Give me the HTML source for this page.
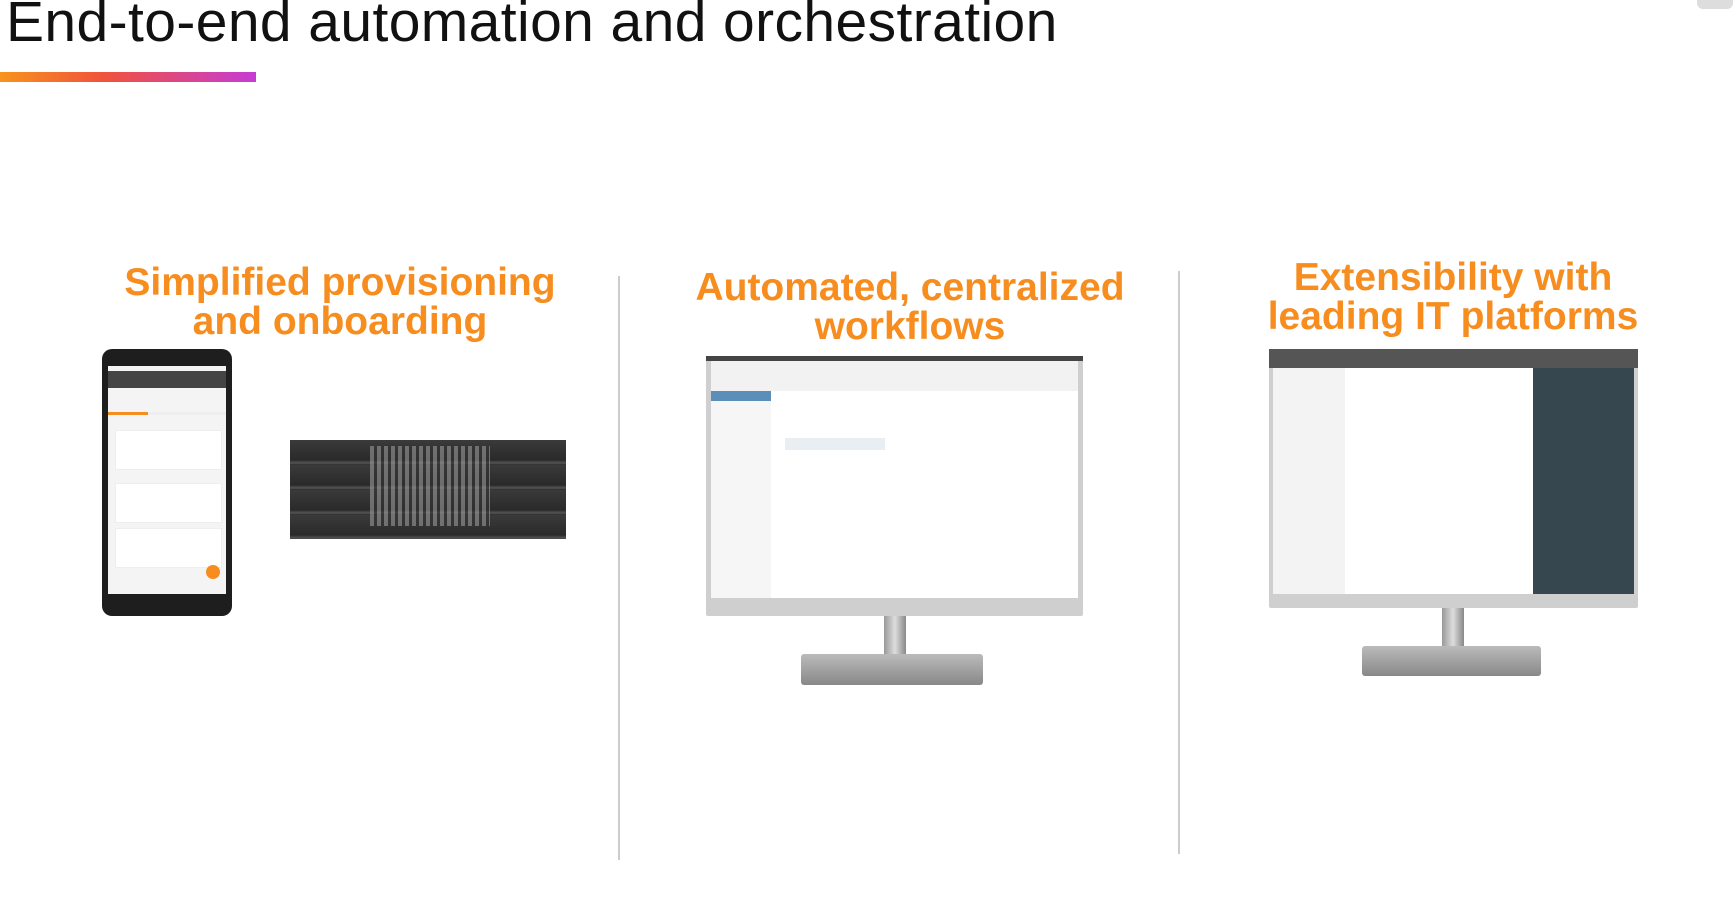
<!DOCTYPE html>
<html><head><meta charset="utf-8"><style>
body{margin:0;width:1733px;height:914px;background:#fff;position:relative;overflow:hidden;font-family:"Liberation Sans",sans-serif}
.a{position:absolute}
.h{position:absolute;color:#f68d1e;font-weight:bold;font-size:39px;text-align:center;line-height:39px;width:600px}
</style></head><body>
<div class="a" style="left:6px;top:-11px;font-size:57px;letter-spacing:0.4px;color:#111;white-space:nowrap">End-to-end automation and orchestration</div>
<div class="a" style="left:0;top:72px;width:256px;height:10px;background:linear-gradient(90deg,#f7931e,#f0533a 40%,#c63bd6)"></div>
<div class="a" style="left:1697px;top:0;width:36px;height:9px;background:#ddd;border-radius:0 0 6px 6px"></div>

<div class="h" style="left:40px;top:263px">Simplified provisioning<br>and onboarding</div>
<div class="h" style="left:610px;top:268px">Automated, centralized<br>workflows</div>
<div class="h" style="left:1153px;top:258px">Extensibility with<br>leading IT platforms</div>

<div class="a" style="left:618px;top:276px;width:2px;height:584px;background:#ccc"></div>
<div class="a" style="left:1178px;top:271px;width:2px;height:583px;background:#ccc"></div>

<!-- phone -->
<div class="a" style="left:102px;top:349px;width:130px;height:267px;background:#1e1e1e;border-radius:10px"></div>
<div class="a" style="left:108px;top:366px;width:118px;height:228px;background:#f4f4f4"></div>
<div class="a" style="left:108px;top:371px;width:118px;height:17px;background:#444"></div>
<div class="a" style="left:108px;top:412px;width:118px;height:3px;background:#eee"><div style="width:40px;height:3px;background:#f68d1e"></div></div>
<div class="a" style="left:115px;top:430px;width:105px;height:38px;background:#fff;border:1px solid #eee"></div>
<div class="a" style="left:115px;top:483px;width:105px;height:38px;background:#fff;border:1px solid #eee"></div>
<div class="a" style="left:115px;top:528px;width:105px;height:38px;background:#fff;border:1px solid #eee"></div>
<div class="a" style="left:206px;top:565px;width:14px;height:14px;border-radius:50%;background:#f68d1e"></div>

<!-- switches -->
<div class="a" style="left:290px;top:440px;width:276px;height:99px;background:repeating-linear-gradient(180deg,#3a3a3a 0,#2a2a2a 20px,#555 23px,#2a2a2a 25px)"></div>
<div class="a" style="left:370px;top:446px;width:120px;height:80px;background:repeating-linear-gradient(90deg,#999 0 4px,#333 4px 7px);opacity:.6"></div>

<!-- monitor 1 -->
<div class="a" style="left:706px;top:356px;width:377px;height:260px;background:#cfcfcf;border-radius:2px"></div>
<div class="a" style="left:706px;top:356px;width:377px;height:5px;background:#444"></div>
<div class="a" style="left:711px;top:361px;width:367px;height:237px;background:#fff"></div>
<div class="a" style="left:711px;top:361px;width:367px;height:30px;background:#f2f2f2"></div>
<div class="a" style="left:711px;top:391px;width:60px;height:207px;background:#f6f6f6"></div>
<div class="a" style="left:711px;top:391px;width:60px;height:10px;background:#5b8fb9"></div>
<div class="a" style="left:785px;top:438px;width:100px;height:12px;background:#e8eef1"></div>
<div class="a" style="left:884px;top:616px;width:22px;height:42px;background:linear-gradient(90deg,#999,#ddd,#888)"></div>
<div class="a" style="left:801px;top:654px;width:182px;height:31px;background:linear-gradient(180deg,#bbb,#888);border-radius:3px"></div>

<!-- monitor 2 -->
<div class="a" style="left:1269px;top:349px;width:369px;height:259px;background:#cfcfcf;border-radius:2px"></div>
<div class="a" style="left:1273px;top:354px;width:361px;height:240px;background:#fff"></div>
<div class="a" style="left:1269px;top:349px;width:369px;height:19px;background:#555"></div>
<div class="a" style="left:1273px;top:368px;width:72px;height:226px;background:#f3f3f3"></div>
<div class="a" style="left:1533px;top:368px;width:101px;height:226px;background:#37474f"></div>
<div class="a" style="left:1442px;top:608px;width:22px;height:44px;background:linear-gradient(90deg,#999,#ddd,#888)"></div>
<div class="a" style="left:1362px;top:646px;width:179px;height:30px;background:linear-gradient(180deg,#bbb,#888);border-radius:3px"></div>
</body></html>
